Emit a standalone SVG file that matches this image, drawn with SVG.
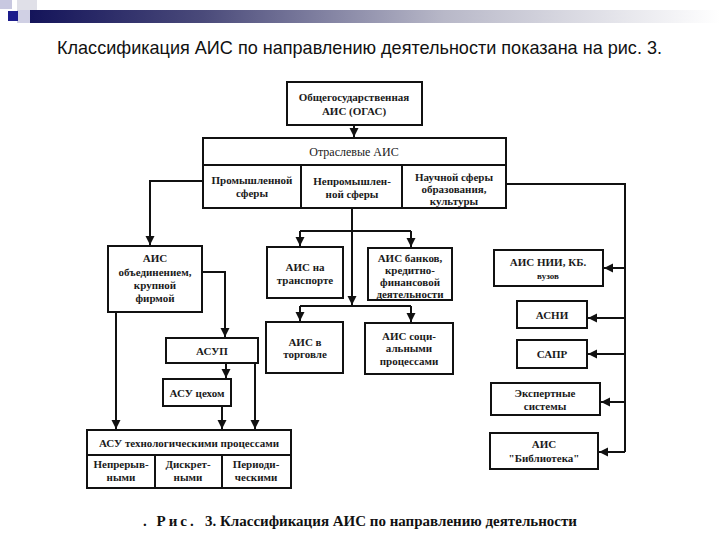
<svg xmlns="http://www.w3.org/2000/svg" width="720" height="540" viewBox="0 0 720 540">
<defs>
  <linearGradient id="bar" x1="0" y1="0" x2="1" y2="0">
    <stop offset="0" stop-color="#14145a"/>
    <stop offset="0.25" stop-color="#4a4a7a"/>
    <stop offset="0.6" stop-color="#b8b8c8"/>
    <stop offset="1" stop-color="#ffffff"/>
  </linearGradient>
  <marker id="arr" markerUnits="userSpaceOnUse" markerWidth="10" markerHeight="10" refX="9" refY="4.5" orient="auto">
    <path d="M0,0 L9,4.5 L0,9 z" fill="#111"/>
  </marker>
</defs>
<style>
  .box{fill:#fff;stroke:#111;stroke-width:2}
  .ln{fill:none;stroke:#111;stroke-width:2}
  .t{font-family:"Liberation Serif","DejaVu Serif",serif;font-size:11px;font-weight:bold;fill:#1a1a1a;text-anchor:middle}
  .n{font-weight:normal;font-size:12px}
  .s{font-size:9px}
  .title{font-family:"Liberation Sans",Arial,sans-serif;font-size:19px;fill:#111}
  .cap{font-family:"Liberation Serif","DejaVu Serif",serif;font-size:15px;font-weight:bold;fill:#111}
</style>
<rect width="720" height="540" fill="#fff"/>
<g id="header">
  <rect x="0" y="0" width="12" height="9" fill="#c8c8e0"/>
  <rect x="17" y="0" width="20" height="10" fill="#e0e0e8"/>
  <rect x="17" y="10" width="15" height="13" fill="#d0d0e4"/>
  <rect x="30" y="10" width="690" height="13" fill="url(#bar)"/>
  <rect x="8" y="11" width="10" height="10" fill="#1c1c8c"/>
</g>
<text class="title" x="57" y="54" textLength="605" lengthAdjust="spacingAndGlyphs">Классификация АИС по направлению деятельности показана на рис. 3.</text>

<g id="connectors">
  <path class="ln" d="M354,125 V137" marker-end="url(#arr)"/>
  <path class="ln" d="M203,181 H150 V245" marker-end="url(#arr)"/>
  <path class="ln" d="M505,184 H625 V452"/>
  <path class="ln" d="M625,268 H604" marker-end="url(#arr)"/>
  <path class="ln" d="M625,318 H588" marker-end="url(#arr)"/>
  <path class="ln" d="M625,354 H588" marker-end="url(#arr)"/>
  <path class="ln" d="M625,402 H601" marker-end="url(#arr)"/>
  <path class="ln" d="M625,452 H599" marker-end="url(#arr)"/>
  <path class="ln" d="M352,208 V305" marker-end="url(#arr)"/>
  <path class="ln" d="M300,231 H411"/>
  <path class="ln" d="M300,231 V246" marker-end="url(#arr)"/>
  <path class="ln" d="M411,231 V247" marker-end="url(#arr)"/>
  <path class="ln" d="M300,306 H411"/>
  <path class="ln" d="M300,306 V321" marker-end="url(#arr)"/>
  <path class="ln" d="M411,306 V322" marker-end="url(#arr)"/>
  <path class="ln" d="M202,272 H225 V337" marker-end="url(#arr)"/>
  <path class="ln" d="M116,312 V429" marker-end="url(#arr)"/>
  <path class="ln" d="M226,363 V378" marker-end="url(#arr)"/>
  <path class="ln" d="M255,363 V429" marker-end="url(#arr)"/>
  <path class="ln" d="M222,406 V429" marker-end="url(#arr)"/>
</g>

<g id="ogas">
  <rect class="box" x="287" y="82" width="135" height="43"/>
  <text class="t" x="354" y="101">Общегосударственная</text>
  <text class="t" x="354" y="115">АИС (ОГАС)</text>
</g>

<g id="otrasl">
  <rect class="box" x="203" y="138" width="303" height="70"/>
  <line class="ln" x1="203" y1="165" x2="506" y2="165"/>
  <line class="ln" x1="301" y1="165" x2="301" y2="208"/>
  <line class="ln" x1="402" y1="165" x2="402" y2="208"/>
  <text class="t n" x="354" y="156">Отраслевые АИС</text>
  <text class="t" x="252" y="184">Промышленной</text>
  <text class="t" x="252" y="197">сферы</text>
  <text class="t" x="352" y="185">Непромышлен-</text>
  <text class="t" x="352" y="198">ной сферы</text>
  <text class="t" x="454" y="181">Научной сферы</text>
  <text class="t" x="454" y="193">образования,</text>
  <text class="t" x="454" y="205">культуры</text>
</g>

<g id="obyed">
  <rect class="box" x="108" y="246" width="94" height="66"/>
  <text class="t" x="155" y="262">АИС</text>
  <text class="t" x="155" y="276">объединением,</text>
  <text class="t" x="155" y="289">крупной</text>
  <text class="t" x="155" y="302">фирмой</text>
</g>

<g id="transport">
  <rect class="box" x="267" y="247" width="76" height="51"/>
  <text class="t" x="305" y="271">АИС на</text>
  <text class="t" x="305" y="284">транспорте</text>
</g>

<g id="banks">
  <rect class="box" x="368" y="248" width="84" height="52"/>
  <text class="t" x="410" y="262">АИС банков,</text>
  <text class="t" x="410" y="274">кредитно-</text>
  <text class="t" x="410" y="286">финансовой</text>
  <text class="t" x="410" y="298">деятельности</text>
</g>

<g id="trade">
  <rect class="box" x="266" y="322" width="77" height="51"/>
  <text class="t" x="305" y="346">АИС в</text>
  <text class="t" x="305" y="358">торговле</text>
</g>

<g id="social">
  <rect class="box" x="365" y="323" width="88" height="51"/>
  <text class="t" x="409" y="340">АИС соци-</text>
  <text class="t" x="409" y="352">альными</text>
  <text class="t" x="409" y="365">процессами</text>
</g>

<g id="asup">
  <rect class="box" x="166" y="338" width="92" height="25"/>
  <text class="t" x="212" y="355">АСУП</text>
</g>

<g id="asu-ceh">
  <rect class="box" x="163" y="379" width="68" height="27"/>
  <text class="t" x="197" y="397">АСУ цехом</text>
</g>

<g id="asu-tp">
  <rect class="box" x="87" y="430" width="204" height="58"/>
  <line class="ln" x1="87" y1="455" x2="291" y2="455"/>
  <line class="ln" x1="155" y1="455" x2="155" y2="488"/>
  <line class="ln" x1="222" y1="455" x2="222" y2="488"/>
  <text class="t" x="189" y="447">АСУ технологическими процессами</text>
  <text class="t" x="121" y="468">Непрерыв-</text>
  <text class="t" x="121" y="481">ными</text>
  <text class="t" x="188" y="468">Дискрет-</text>
  <text class="t" x="188" y="481">ными</text>
  <text class="t" x="256" y="468">Периоди-</text>
  <text class="t" x="256" y="481">ческими</text>
</g>

<g id="nii">
  <rect class="box" x="494" y="250" width="109" height="36"/>
  <text class="t" x="548" y="266">АИС НИИ, КБ.</text>
  <text class="t s" x="548" y="279">вузов</text>
</g>

<g id="asni">
  <rect class="box" x="517" y="301" width="70" height="27"/>
  <text class="t" x="552" y="319">АСНИ</text>
</g>

<g id="sapr">
  <rect class="box" x="517" y="340" width="70" height="28"/>
  <text class="t" x="552" y="358">САПР</text>
</g>

<g id="expert">
  <rect class="box" x="491" y="383" width="109" height="32"/>
  <text class="t" x="545" y="397">Экспертные</text>
  <text class="t" x="545" y="410">системы</text>
</g>

<g id="library">
  <rect class="box" x="490" y="433" width="108" height="36"/>
  <text class="t" x="544" y="448">АИС</text>
  <text class="t" x="544" y="462">"Библиотека"</text>
</g>

<text class="cap" x="143" y="526" letter-spacing="3">. Рис.</text>
<text class="cap" x="205" y="526" textLength="372" lengthAdjust="spacingAndGlyphs">3. Классификация АИС по направлению деятельности</text>
</svg>
